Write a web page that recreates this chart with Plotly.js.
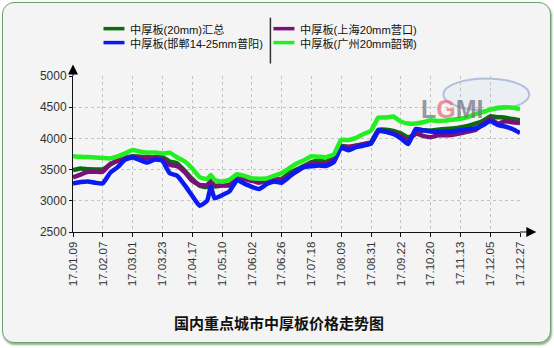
<!DOCTYPE html>
<html>
<head>
<meta charset="utf-8">
<script src="https://cdn.plot.ly/plotly-3.0.1.min.js"></script>
<style>
html,body{margin:0;padding:0;background:#ffffff;}
#frame{position:absolute;left:2px;top:2px;width:547px;height:339px;border:1.5px solid #6aa36a;border-radius:12px;background:#f4f4f4;box-shadow:1px 2px 2px rgba(60,110,60,0.55);}
#chart{position:absolute;left:0;top:0;width:554px;height:348px;}
</style>
</head>
<body>
<div id="frame"></div>
<div id="chart"></div>
<script>
// trading-day index of each sample
const dayIndex = [0,4,8,12,16,20,24,28,32,36,40,44,48,52,56,60,64,68,72,74,76,80,84,88,92,96,100,104,108,112,116,120,124,128,132,136,140,144,148,152,156,160,164,168,172,176,180,184,188,192,196,200,204,208,212,216,220,224,228,232,236,240];
// tick dates (every 16 trading days)
const tickIndex = [0,16,32,48,64,80,96,112,128,144,160,176,192,208,224,240];
const tickLabels = ["17.01.09","17.02.07","17.03.01","17.03.23","17.04.17","17.05.10","17.06.02","17.06.26","17.07.18","17.08.09","17.08.31","17.09.22","17.10.20","17.11.13","17.12.05","17.12.27"];

const seriesNames = ["中厚板(20mm)汇总","中厚板(上海20mm营口)","中厚板(邯郸14-25mm普阳)","中厚板(广州20mm韶钢)"];

const totalAvg = [3492,3518,3505,3502,3502,3580,3651,3690,3715,3705,3700,3694,3700,3630,3600,3480,3350,3240,3220,3305,3230,3245,3250,3405,3360,3325,3320,3335,3345,3350,3440,3500,3560,3620,3640,3625,3690,3880,3860,3880,3910,3940,4140,4140,4120,4080,4020,4070,4130,4125,4140,4150,4160,4175,4200,4235,4280,4353,4340,4332,4310,4290];
const shanghai = [3374,3420,3465,3465,3465,3590,3640,3680,3705,3680,3685,3694,3660,3575,3555,3460,3320,3255,3250,3321,3240,3248,3252,3400,3350,3320,3290,3325,3330,3331,3400,3465,3540,3597,3598,3590,3660,3865,3865,3885,3905,3920,4110,4110,4080,4030,3972,4080,4040,4020,4050,4050,4060,4080,4110,4135,4220,4316,4235,4275,4260,4245];
const handan = [3278,3300,3310,3289,3280,3450,3540,3660,3694,3651,3612,3662,3640,3440,3400,3250,3080,2920,3000,3225,3040,3090,3150,3330,3275,3225,3190,3268,3310,3290,3380,3480,3540,3554,3565,3560,3620,3850,3810,3860,3885,3920,4130,4105,4070,4000,3910,4150,4131,4110,4102,4105,4115,4130,4145,4160,4210,4278,4215,4190,4150,4086];
const guangzhou = [3715,3705,3700,3694,3685,3680,3712,3760,3815,3790,3772,3774,3760,3768,3694,3630,3520,3380,3350,3412,3335,3305,3335,3425,3400,3360,3355,3358,3400,3447,3520,3597,3650,3714,3705,3700,3745,3975,3975,4010,4070,4125,4334,4334,4350,4270,4238,4240,4260,4290,4280,4285,4300,4316,4340,4390,4420,4460,4490,4500,4490,4470];

const colors = ["#0b6b10","#7a117a","#0a1af0","#22ee22"];
const values = [totalAvg, shanghai, handan, guangzhou];

const traces = values.map((v,k)=>({
  x: dayIndex, y: v, type:"scatter", mode:"lines", name: seriesNames[k], showlegend:false,
  line:{color:colors[k], width:4.5, shape:"spline", smoothing:0.4}
}));

const L = 72.5, R = 519.7, T = 75.5, B = 232;
const pw = R-L, ph = B-T;
const px = p => (p-L)/pw;           // pixel -> paper x
const py = p => (B-p)/ph;           // pixel -> paper y

// legend layout: [column x of sample start, row y]
const legendPos = [[103,28],[273,28],[103,42],[273,42]];
const legendShapes = legendPos.map((p,k)=>({type:"line", xref:"paper", yref:"paper",
  x0:px(p[0]), x1:px(p[0]+21), y0:py(p[1]), y1:py(p[1]), line:{color:colors[k], width:3.5}}));
const legendTexts = legendPos.map((p,k)=>({xref:"paper", yref:"paper", x:px(p[0]+25), y:py(p[1]+1),
  xanchor:"left", yanchor:"middle", showarrow:false, text:seriesNames[k],
  font:{family:"Liberation Sans, Noto Sans CJK SC, sans-serif", size:11.2, color:"#111"}}));

const layout = {
  width:554, height:348,
  margin:{l:L, r:554-R, t:T, b:348-B, pad:0},
  paper_bgcolor:"rgba(0,0,0,0)", plot_bgcolor:"rgba(0,0,0,0)",
  font:{family:"Liberation Sans, Arial, sans-serif", color:"#222", size:12},
  showlegend:false,
  xaxis:{range:[0,240], tickmode:"array", tickvals:tickIndex, ticktext:tickLabels,
    tickangle:-90, tickfont:{size:11.5, color:"#333"}, ticks:"outside", ticklen:4, tickcolor:"#111",
    showline:true, linecolor:"#111", linewidth:1, showgrid:true, gridcolor:"#c2c2c2", griddash:"dot", gridwidth:1,
    zeroline:false, fixedrange:true},
  yaxis:{range:[2500,5000], tickvals:[2500,3000,3500,4000,4500,5000], ticks:"outside", ticklen:3, tickcolor:"#111",
    tickfont:{size:12, color:"#333"},
    showline:true, linecolor:"#111", linewidth:1, showgrid:true, gridcolor:"#c2c2c2", griddash:"dot", gridwidth:1,
    zeroline:false, fixedrange:true},
  shapes:[
    // x-axis extension + arrow
    {type:"line", xref:"paper", yref:"paper", x0:1, x1:px(528), y0:0, y1:0, line:{color:"#111", width:1}},
    {type:"path", xref:"paper", yref:"paper", path:`M ${px(536)} 0 L ${px(526)} ${5/ph} L ${px(526)} ${-5/ph} Z`, fillcolor:"#000", line:{width:0}},
    // y-axis extension + arrow
    {type:"line", xref:"paper", yref:"paper", x0:0, x1:0, y0:1, y1:py(70), line:{color:"#111", width:1}},
    {type:"path", xref:"paper", yref:"paper", path:`M 0 ${py(64)} L ${5/pw} ${py(74)} L ${-5/pw} ${py(74)} Z`, fillcolor:"#000", line:{width:0}},
    // legend separator
    {type:"line", xref:"paper", yref:"paper", x0:px(270), x1:px(270), y0:py(17), y1:py(63), line:{color:"#333", width:1.5}},
    // watermark ellipse
    {type:"circle", xref:"paper", yref:"paper", layer:"below", x0:px(443), x1:px(529), y0:py(78), y1:py(110),
      line:{color:"rgba(130,160,205,0.6)", width:2}, fillcolor:"rgba(215,225,240,0.3)"},
    ...legendShapes
  ],
  annotations:[
    {xref:"paper", yref:"paper", x:px(486), y:py(93), text:"<b>L<span style='color:#e8707a'>G</span>MI</b>", showarrow:false,
      font:{family:"Liberation Sans, Arial", size:25, color:"rgba(120,120,130,0.75)"}},
    {xref:"paper", yref:"paper", x:px(279), y:py(323), text:"<b>国内重点城市中厚板价格走势图</b>", showarrow:false,
      xanchor:"center", yanchor:"middle", font:{family:"Noto Sans CJK SC, sans-serif", size:15, color:"#111"}},
    ...legendTexts
  ]
};

Plotly.newPlot("chart", traces, layout, {displayModeBar:false, staticPlot:true});
</script>
</body>
</html>
